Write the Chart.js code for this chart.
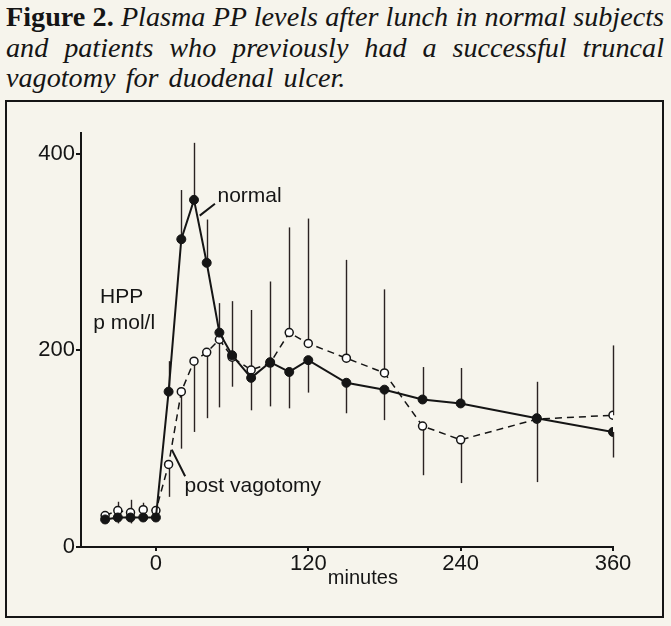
<!DOCTYPE html>
<html>
<head>
<meta charset="utf-8">
<script src="https://cdn.jsdelivr.net/npm/chart.js@4.4.1/dist/chart.umd.min.js"></script>
<style>
  html, body { margin: 0; padding: 0; background: #f6f4ec; }
  body { width: 671px; height: 626px; position: relative; overflow: hidden; }
  #title { position: absolute; left: 6px; top: 2px; width: 658px;
           font-family: "Liberation Serif", serif; font-size: 28.2px; line-height: 30.5px; color: #151515; }
  #title div { text-align: justify; text-align-last: justify; white-space: nowrap; }
  #title div.last { text-align-last: left; word-spacing: 3px; }
  #frame { position: absolute; left: 5px; top: 100px; width: 655px; height: 514px;
           border: 2px solid #151515; }
  #c { position: absolute; left: 0; top: 0; }
</style>
</head>
<body>
<div id="title">
  <div><b>Figure 2.</b> <i>Plasma PP levels after lunch in normal subjects</i></div>
  <div><i>and patients who previously had a successful truncal</i></div>
  <div class="last"><i>vagotomy for duodenal ulcer.</i></div>
</div>
<div id="frame"></div>
<canvas id="c" width="671" height="626"></canvas>
<script>
// minutes after lunch
const minutes = [-40, -30, -20, -10, 0, 10, 20, 30, 40, 50, 60, 75, 90, 105, 120, 150, 180, 210, 240, 300, 360];
// HPP, p mol/l
const normal   = [28, 30, 30, 30, 30, 158, 313, 353, 289, 218, 195, 172, 188, 178, 190, 167, 160, 150, 146, 131, 117];
const vagotomy = [32, 37, 35, 38, 37, 84, 158, 189, 198, 211, 193, 180, 187, 218, 207, 192, 177, 123, 109, 130, 134];
// ends of the error bars (null = no bar on that side)
const normalHi = [null, null, null, null, null, 189, 363, 411, 333, 248, 250, null, null, null, null, null, null, 183, 182, 168, null];
const normalLo = [24, 24, 24, 26, 27, null, null, null, null, null, null, 139, 143, 141, 157, 136, 129, null, null, null, 91];
const vagHi    = [35, 46, 48, 45, 40, null, null, null, null, null, null, 241, 270, 325, 334, 292, 262, null, null, null, 205];
const vagLo    = [null, null, null, null, null, 51, 100, 117, 131, 142, 163, null, null, null, null, null, null, 73, 65, 66, null];
const xTicks = [0, 120, 240, 360];
const yTicks = [0, 200, 400];

const ink = '#151515';

function pts(ys) {
    let out = []
    for (let i = 0; i < minutes.length; i++)
        out.push({x: minutes[i], y: ys[i]})
    return out
}

const errorBars = {
    id: 'errorBars',
    beforeDatasetsDraw(chart) {
        const x = chart.scales.x, y = chart.scales.y
        const c = chart.ctx
        c.save()
        c.strokeStyle = '#2a2222'
        c.lineWidth = 1.4
        const sets = [[normal, normalHi], [normal, normalLo], [vagotomy, vagHi], [vagotomy, vagLo]]
        sets.forEach(([vals, ends]) => {
            for (let i = 0; i < minutes.length; i++) {
                if (ends[i] == null) continue
                const px = Math.round(x.getPixelForValue(minutes[i])) + 0.5
                c.beginPath()
                c.moveTo(px, y.getPixelForValue(vals[i]))
                c.lineTo(px, y.getPixelForValue(ends[i]))
                c.stroke()
            }
        })
        c.restore()
    }
}

const notes = {
    id: 'notes',
    afterDraw(chart) {
        const x = chart.scales.x, y = chart.scales.y
        const c = chart.ctx
        c.save()
        c.fillStyle = ink
        c.strokeStyle = ink
        c.lineWidth = 2
        c.textBaseline = 'middle'
        c.font = '21px "Liberation Sans", Arial, sans-serif'
        c.textAlign = 'left'
        c.fillText('normal', x.getPixelForValue(48.5), y.getPixelForValue(357))
        c.fillText('post vagotomy', x.getPixelForValue(22.5), y.getPixelForValue(62))
        c.textAlign = 'center'
        c.fillText('HPP', x.getPixelForValue(-27), y.getPixelForValue(254))
        c.fillText('p mol/l', x.getPixelForValue(-25), y.getPixelForValue(228))
        c.font = '20px "Liberation Sans", Arial, sans-serif'
        c.fillText('minutes', x.getPixelForValue(163), y.getPixelForValue(-32))
        // leader lines
        c.beginPath()
        c.moveTo(x.getPixelForValue(34.5), y.getPixelForValue(337))
        c.lineTo(x.getPixelForValue(46.5), y.getPixelForValue(349))
        c.moveTo(x.getPixelForValue(12.5), y.getPixelForValue(99))
        c.lineTo(x.getPixelForValue(23), y.getPixelForValue(72))
        c.stroke()
        c.restore()
    }
}

const data = {
    datasets: [{
            label: 'normal',
            data: pts(normal),
            borderColor: ink,
            backgroundColor: ink,
            borderWidth: 2,
            pointRadius: 4.5,
            pointBackgroundColor: ink,
            pointBorderColor: ink,
            pointBorderWidth: 1,
            tension: 0
        }, {
            label: 'post vagotomy',
            data: pts(vagotomy),
            borderColor: ink,
            backgroundColor: '#ffffff',
            borderWidth: 1.5,
            borderDash: [7, 5],
            pointRadius: 4,
            pointBackgroundColor: '#ffffff',
            pointBorderColor: ink,
            pointBorderWidth: 1.5,
            tension: 0
        }]
};

const tickFont = {family: '"Liberation Sans", Arial, sans-serif', size: 22}

const config = {
    type: 'line',
    data: data,
    plugins: [errorBars, notes],
    options: {
        responsive: false,
        animation: false,
        layout: {padding: {left: 0, top: 133, right: 58, bottom: 0}},
        plugins: {legend: {display: false}, tooltip: {enabled: false}},
        scales: {
            x: {
                type: 'linear',
                min: -59,
                max: 360,
                afterBuildTicks: s => { s.ticks = xTicks.map(v => ({value: v})) },
                afterFit: s => { s.height = 79 },
                ticks: {color: ink, font: tickFont, padding: 0, maxRotation: 0},
                grid: {drawOnChartArea: false, tickLength: 4, color: ink, lineWidth: 2},
                border: {display: true, color: ink, width: 2}
            },
            y: {
                type: 'linear',
                min: 0,
                max: 421,
                afterBuildTicks: s => { s.ticks = yTicks.map(v => ({value: v})) },
                afterFit: s => { s.width = 81 },
                ticks: {color: ink, font: tickFont, padding: 1},
                grid: {drawOnChartArea: false, tickLength: 5, color: ink, lineWidth: 2},
                border: {display: true, color: ink, width: 2}
            }
        }
    }
};

let c = document.getElementById('c').getContext('2d')
new Chart(c, config)
</script>
</body>
</html>
